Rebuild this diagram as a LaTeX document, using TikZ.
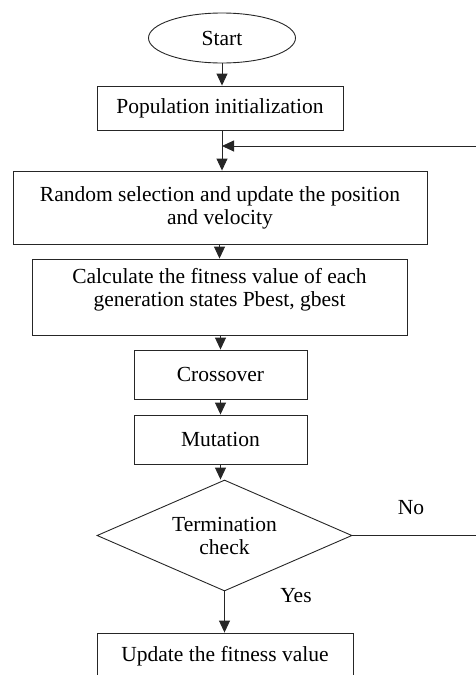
\documentclass[tikz,border=0pt]{standalone}
\usepackage{fontspec}
\setmainfont{Liberation Serif}
\usetikzlibrary{shapes.geometric,arrows.meta}
\begin{document}
\begin{tikzpicture}[x=1pt,y=-1pt,
    blocco/.style={draw=black!85, line width=0.9pt, rectangle, align=center,
      inner sep=0pt, font=\fontsize{21.5}{23}\selectfont},
    freccia/.style={draw=black!85, line width=0.9pt, -{Triangle[length=12pt,width=11pt]}},
    etichetta/.style={font=\fontsize{21.5}{23}\selectfont, align=center}]
  \useasboundingbox (0,0) rectangle (476,675);
  % blocchi del diagramma di flusso
  \node[blocco, ellipse, minimum width=147pt, minimum height=50pt] (start) at (222,38) {Start};
  \node[blocco, minimum width=246pt, minimum height=44pt] (pop) at (220,108) {Population initialization};
  \node[blocco, minimum width=414pt, minimum height=73pt] (rand) at (220,207.5)
    {Random selection and update the position\\and velocity};
  \node[blocco, minimum width=375pt, minimum height=76pt] (calc) at (219.5,297) {};
  \node[etichetta] (calctesto) at (219.5,290)
    {Calculate the fitness value of each\\generation states Pbest, gbest};
  \node[blocco, minimum width=173pt, minimum height=49pt] (cross) at (220.5,374.5) {Crossover};
  \node[blocco, minimum width=173pt, minimum height=49pt] (mut) at (220.5,439.5) {Mutation};
  \node[blocco, diamond, aspect=2.3, minimum width=255pt, minimum height=111pt] (check) at (224.5,535.5)
    {Termination\\check};
  \node[blocco, minimum width=256pt, minimum height=46pt] (upd) at (225,656) {Update the fitness value};
  % etichette del ramo decisionale
  \node[etichetta] (no) at (411,508) {No};
  \node[etichetta] (yes) at (296,596) {Yes};
  % frecce
  \coordinate (rientro) at (222,146);
  \coordinate (destra) at (482,535.5);
  \coordinate (alto) at (482,146);
  \draw[freccia] (start.south) -- (start.south |- pop.north);
  \draw[freccia] (rientro |- pop.south) -- (rientro |- rand.north);
  \draw[freccia] (rand.south -| calc.south) -- (calc.north);
  \draw[freccia] (calc.south -| cross.north) -- (cross.north);
  \draw[freccia] (cross.south) -- (mut.north);
  \draw[freccia] (mut.south) -- (mut.south |- check.north);
  \draw[freccia] (check.south) -- (check.south |- upd.north);
  \draw[freccia] (check.east) -- (destra) -- (alto) -- (rientro);
\end{tikzpicture}
\end{document}
